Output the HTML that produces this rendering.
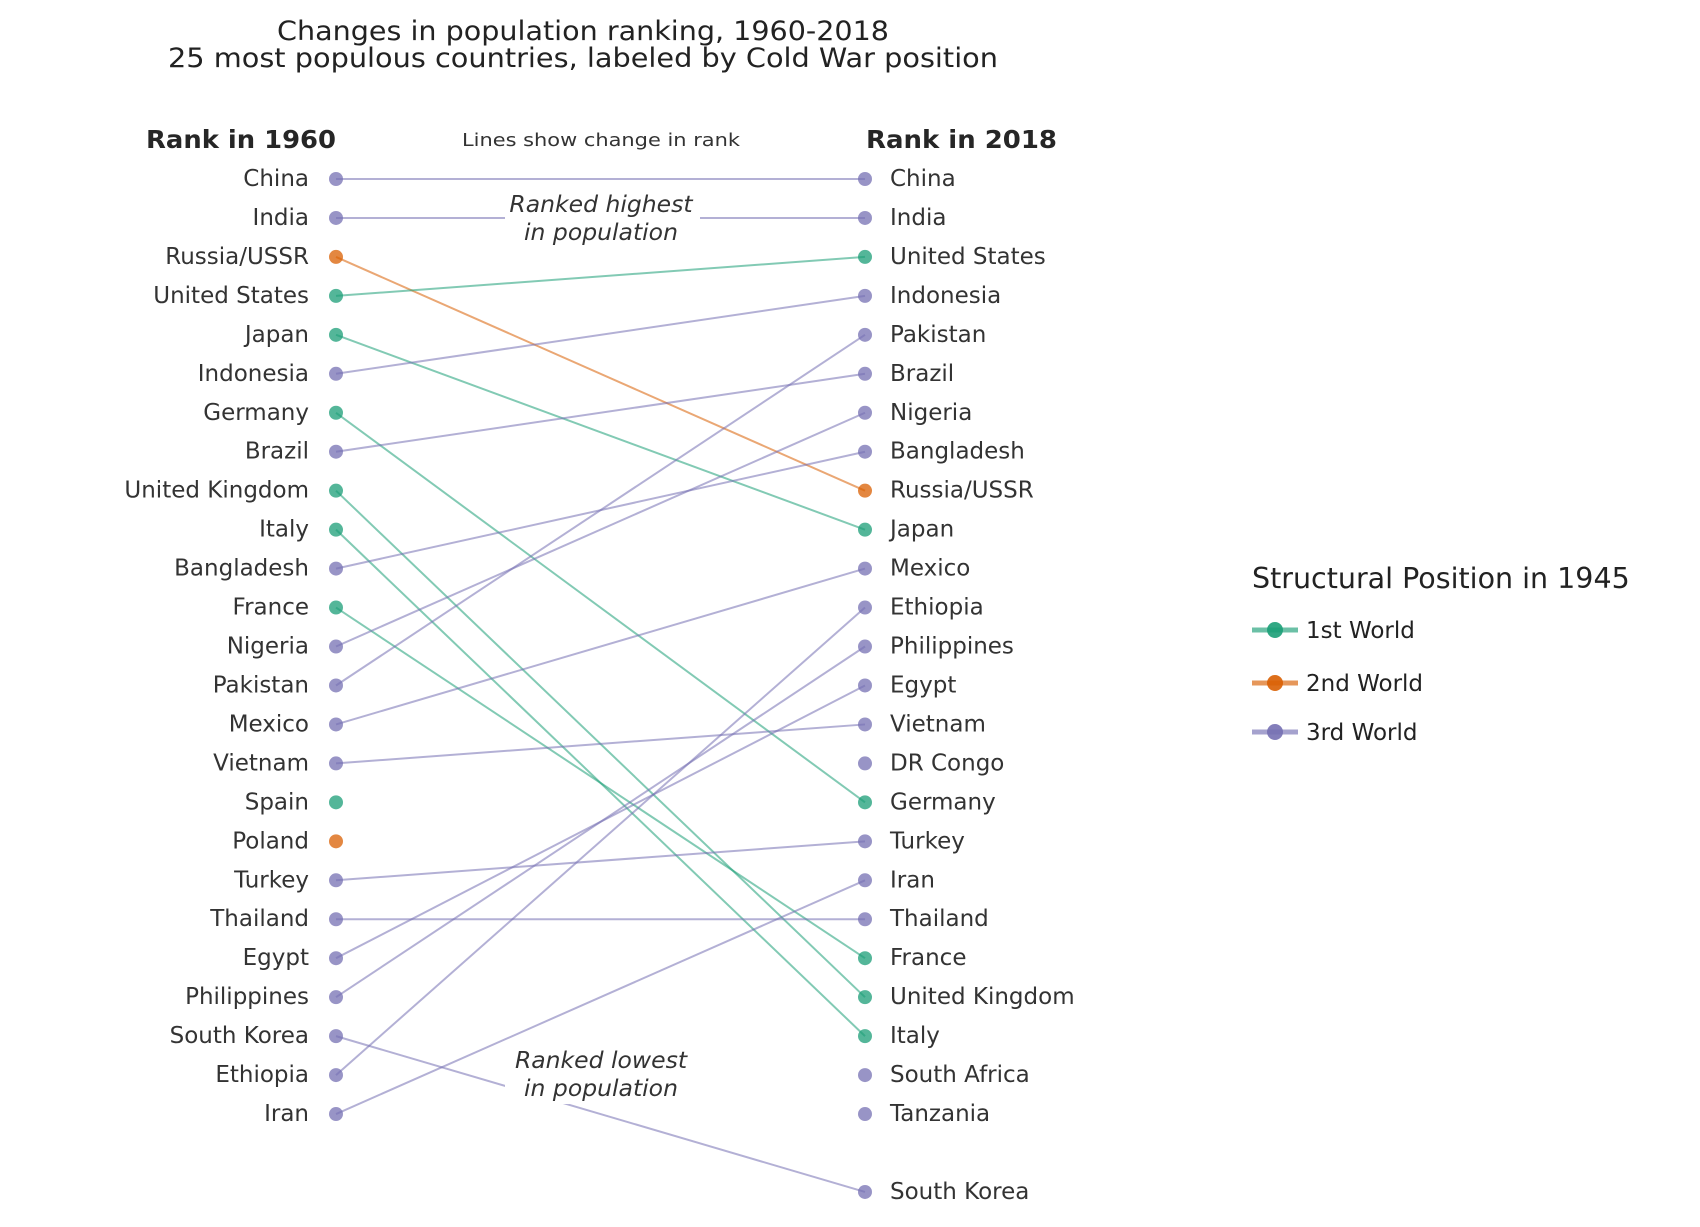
<!DOCTYPE html>
<html><head><meta charset="utf-8"><style>
html,body{margin:0;padding:0;background:#fff;}
svg{display:block;font-family:"DejaVu Sans","Liberation Sans",sans-serif;}
</style></head><body>
<svg id="chart" width="1700" height="1227" viewBox="0 0 1700 1227">
<g>
<text x="583" y="40" text-anchor="middle" font-size="27" fill="#222" textLength="612" lengthAdjust="spacingAndGlyphs">Changes in population ranking, 1960-2018</text>
<text x="583" y="67" text-anchor="middle" font-size="27" fill="#222" textLength="830" lengthAdjust="spacingAndGlyphs">25 most populous countries, labeled by Cold War position</text>
</g>
<text x="336" y="148" text-anchor="end" font-size="25" font-weight="bold" fill="#262626" textLength="190" lengthAdjust="spacingAndGlyphs">Rank in 1960</text>
<text x="866" y="148" font-size="25" font-weight="bold" fill="#262626" textLength="191" lengthAdjust="spacingAndGlyphs">Rank in 2018</text>
<text x="601" y="146" text-anchor="middle" font-size="18" fill="#333" textLength="278" lengthAdjust="spacingAndGlyphs">Lines show change in rank</text>
<g id="lines"></g>
<g id="annots"></g>
<g id="dots"></g>
<g id="legend"></g>
</svg>
<script>
const countries1960 = ["China","India","Russia/USSR","United States","Japan","Indonesia","Germany","Brazil","United Kingdom","Italy","Bangladesh","France","Nigeria","Pakistan","Mexico","Vietnam","Spain","Poland","Turkey","Thailand","Egypt","Philippines","South Korea","Ethiopia","Iran"];
const countries2018 = ["China","India","United States","Indonesia","Pakistan","Brazil","Nigeria","Bangladesh","Russia/USSR","Japan","Mexico","Ethiopia","Philippines","Egypt","Vietnam","DR Congo","Germany","Turkey","Iran","Thailand","France","United Kingdom","Italy","South Africa","Tanzania"];
const extraRank2018 = {"South Korea":27};
const firstWorld = ["United States","Japan","Germany","United Kingdom","Italy","France","Spain"];
const secondWorld = ["Russia/USSR","Poland"];
const NS="http://www.w3.org/2000/svg";
const X1=336, X2=865, Y0=179, STEP=38.96;
function yRank(r){return Y0+(r-1)*STEP;}
const lineCol={1:"#1b9e77",2:"#d95f02",3:"#7570b3"};
function grp(c){return firstWorld.includes(c)?1:secondWorld.includes(c)?2:3;}
function rank2018(c){const i=countries2018.indexOf(c);return i>=0?i+1:(extraRank2018[c]||null);}
function mk(tag,attrs,parent){const e=document.createElementNS(NS,tag);for(const k in attrs)e.setAttribute(k,attrs[k]);parent.appendChild(e);return e;}
const gL=document.getElementById('lines'),gD=document.getElementById('dots'),gA=document.getElementById('annots'),gLeg=document.getElementById('legend');
countries1960.forEach((c,i)=>{
  const r2=rank2018(c);
  if(r2){
    const l=mk('line',{x1:X1,y1:yRank(i+1),x2:X2,y2:yRank(r2),stroke:lineCol[grp(c)],'stroke-width':2,'stroke-opacity':0.55},gL);
    
    
  }
  const d=mk('circle',{cx:X1,cy:yRank(i+1),r:7,fill:lineCol[grp(c)],'fill-opacity':0.75},gD);
  
  
  const t=mk('text',{x:309,y:yRank(i+1)+7,'text-anchor':'end','font-size':23,fill:'#333'},gD);
  t.textContent=c;
  
  
});
const right=countries2018.map((c,i)=>[c,i+1]).concat(Object.entries(extraRank2018));
right.forEach(([c,r])=>{
  const d=mk('circle',{cx:X2,cy:yRank(r),r:7,fill:lineCol[grp(c)],'fill-opacity':0.75},gD);
  
  
  const t=mk('text',{x:890,y:yRank(r)+7,'font-size':23,fill:'#333'},gD);
  t.textContent=c;
  
  
});
function annot(lines,y,name){
  const g=mk('g',{},gA);
  
  
  mk('rect',{x:505,y:y-24,width:195,height:60,fill:'#fff'},g);
  lines.forEach((s,i)=>{const t=mk('text',{x:601,y:y+i*28,'text-anchor':'middle','font-size':23.5,'font-style':'italic',fill:'#333'},g);t.textContent=s;});
}
annot(["Ranked highest","in population"],212,'annotation-highest');
annot(["Ranked lowest","in population"],1068,'annotation-lowest');
const t0=mk('text',{x:1252,y:588,'font-size':28.5,fill:'#222'},gLeg);
t0.textContent='Structural Position in 1945';


[["1st World",1,630],["2nd World",2,683],["3rd World",3,732]].forEach(([lab,g,y])=>{
  const e=mk('g',{},gLeg);
  
  
  mk('line',{x1:1252,y1:y,x2:1298,y2:y,stroke:lineCol[g],'stroke-width':5,'stroke-opacity':0.65},e);
  mk('circle',{cx:1275,cy:y,r:8,fill:lineCol[g],'fill-opacity':0.9},e);
  const t=mk('text',{x:1306,y:y+8,'font-size':23,fill:'#222'},e);t.textContent=lab;
});
</script>
</body></html>
